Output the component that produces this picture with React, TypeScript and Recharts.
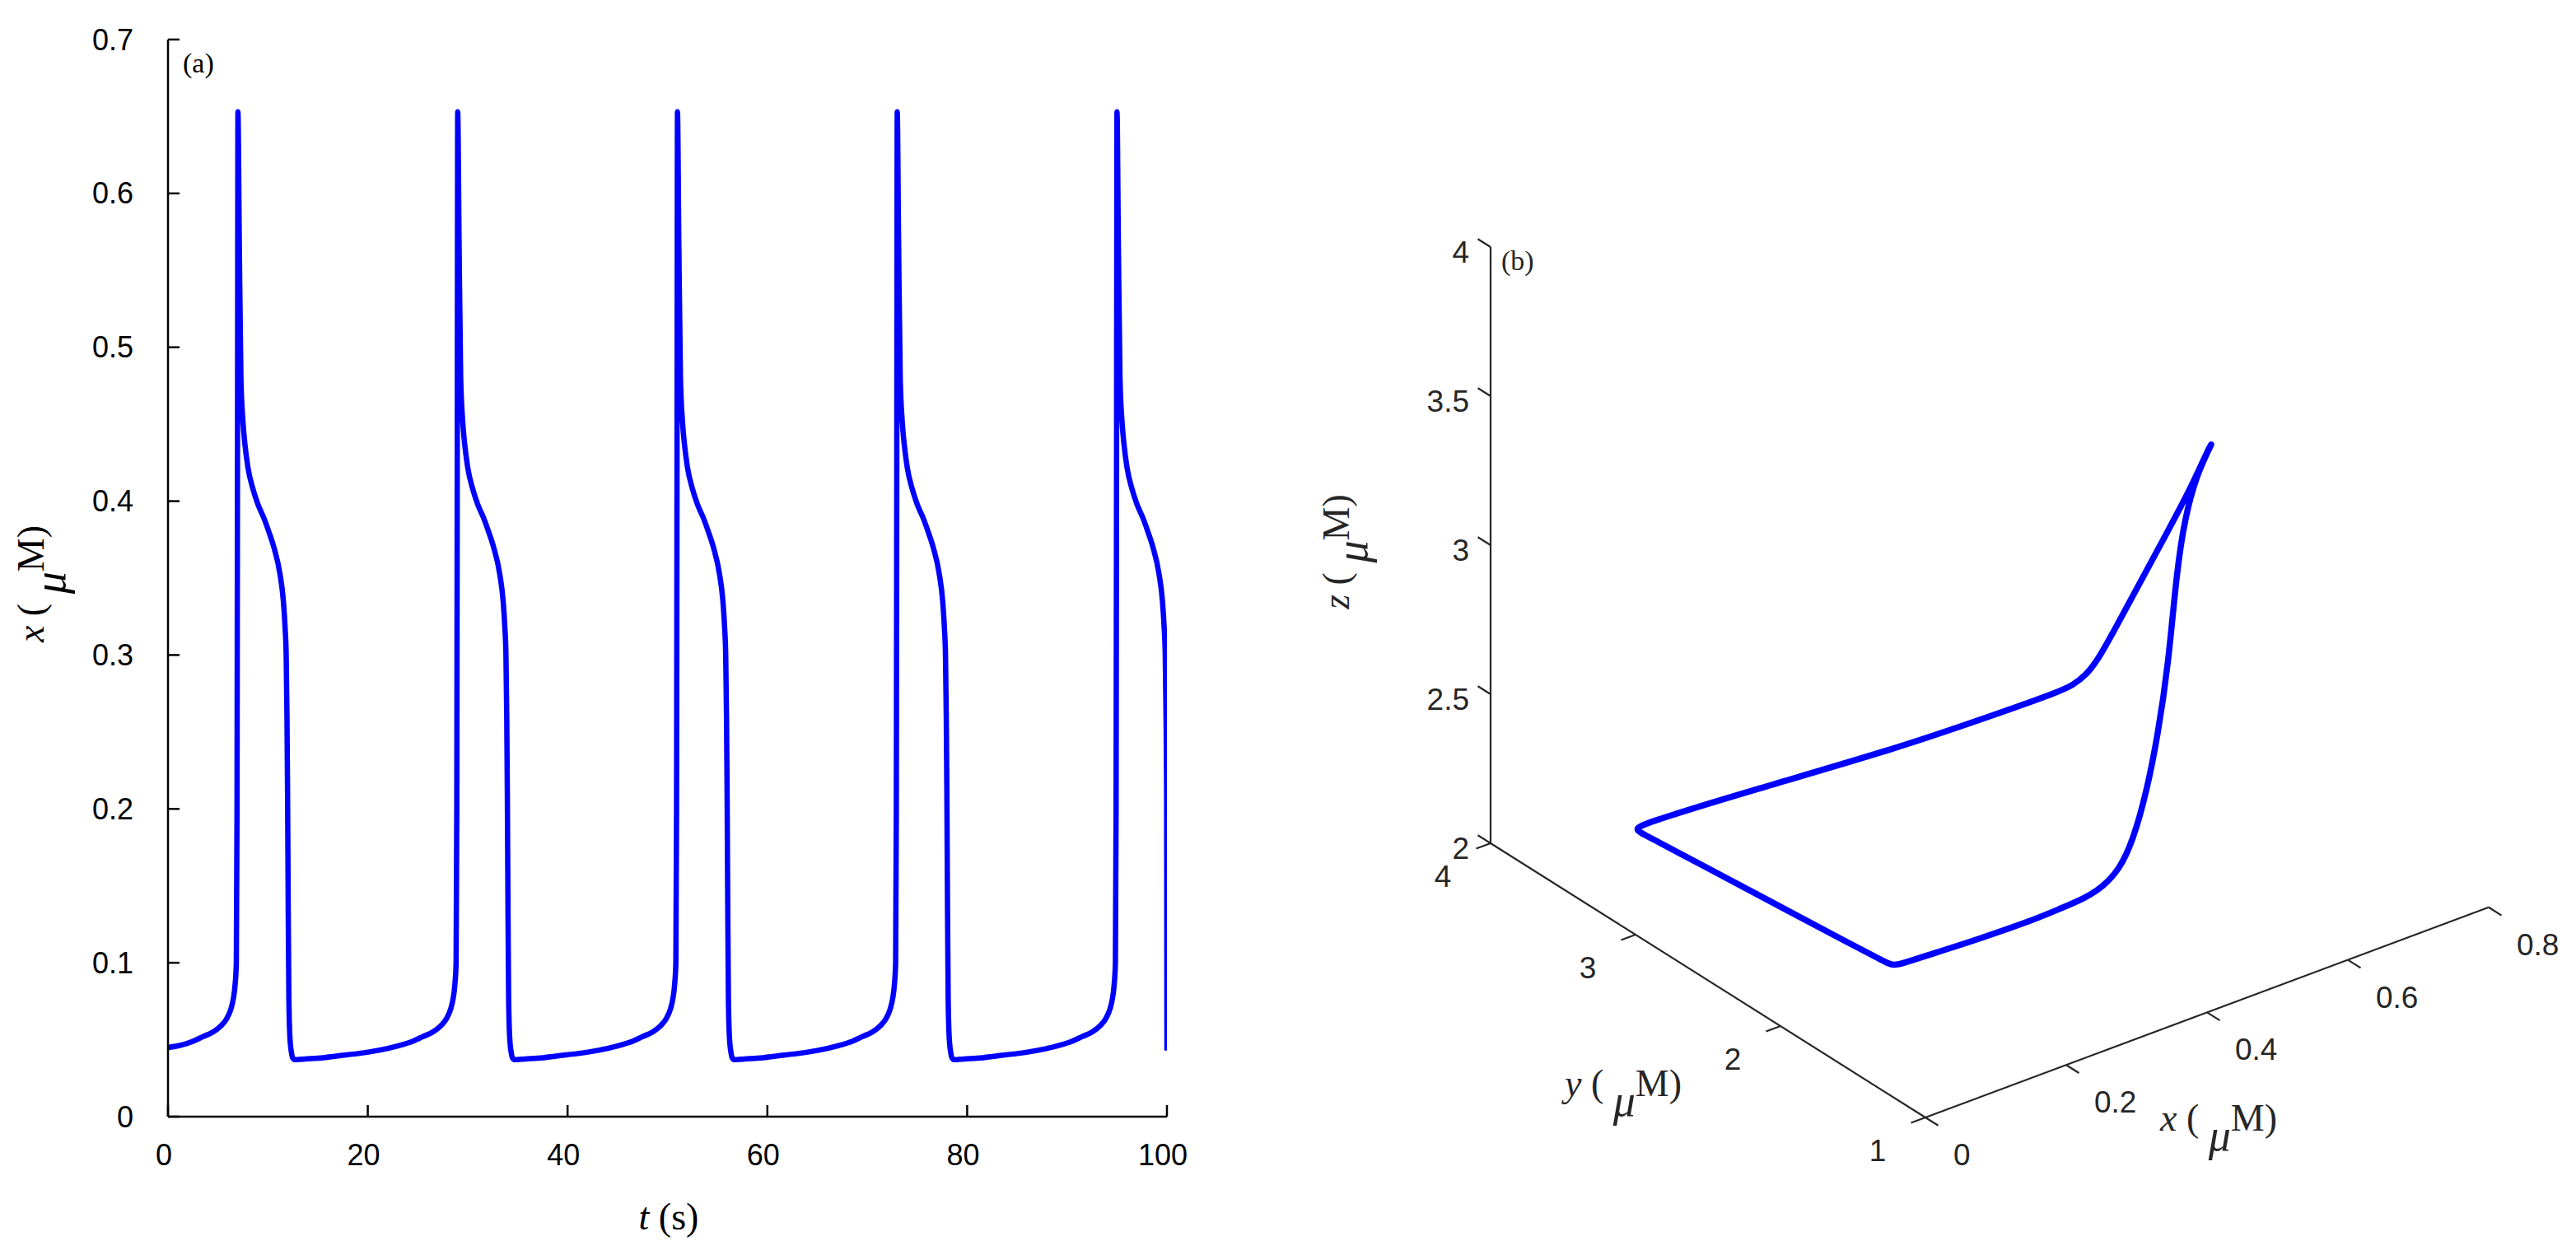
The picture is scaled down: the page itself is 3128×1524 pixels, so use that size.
import React from 'react';
import { LineChart, Line, XAxis, YAxis, ComposedChart, Scatter } from 'recharts';

const SANS = '"Liberation Sans", Arial, Helvetica, sans-serif';
const SERIF = '"Liberation Serif", "Times New Roman", Times, serif';
const BLUE = '#0000ff';
const AXIS_B = '#262626';

// ---------- Panel (a): x(t), one array per spike cycle, pairs [t (s), x (uM)] ----------
const cycle1: [number, number][] = [
  [0, 0.045], [1, 0.046], [2.5, 0.049], [3.5, 0.052], [4.5, 0.055], [5.3, 0.059], [5.9, 0.064], [6.3, 0.07],
  [6.55, 0.077], [6.72, 0.086], [6.84, 0.1], [6.91, 0.2], [6.96, 0.45], [7, 0.653], [7.14, 0.566], [7.3, 0.48],
  [7.5, 0.452], [7.7, 0.437], [8, 0.422], [8.5, 0.408], [9, 0.398], [9.6, 0.389], [10.1, 0.38], [10.6, 0.37],
  [11.2, 0.353], [11.55, 0.335], [11.72, 0.318], [11.83, 0.3], [11.91, 0.26], [11.97, 0.21], [12.03, 0.14],
  [12.1, 0.077], [12.2, 0.052], [12.35, 0.042], [12.5, 0.038], [12.7, 0.037],
];
const cycle2: [number, number][] = [
  [13.7, 0.0375], [15, 0.038], [17, 0.0395], [19, 0.041], [21, 0.043], [23, 0.046], [24.5, 0.049], [25.5, 0.052],
  [26.5, 0.055], [27.3, 0.059], [27.9, 0.064], [28.3, 0.07], [28.55, 0.077], [28.72, 0.086], [28.84, 0.1],
  [28.91, 0.2], [28.96, 0.45], [29, 0.653], [29.14, 0.566], [29.3, 0.48], [29.5, 0.452], [29.7, 0.437], [30, 0.422],
  [30.5, 0.408], [31, 0.398], [31.6, 0.389], [32.1, 0.38], [32.6, 0.37], [33.2, 0.353], [33.55, 0.335],
  [33.72, 0.318], [33.83, 0.3], [33.91, 0.26], [33.97, 0.21], [34.03, 0.14], [34.1, 0.077], [34.2, 0.052],
  [34.35, 0.042], [34.5, 0.038], [34.7, 0.037],
];
const cycle3: [number, number][] = [
  [35.7, 0.0375], [37, 0.038], [39, 0.0395], [41, 0.041], [43, 0.043], [45, 0.046], [46.5, 0.049], [47.5, 0.052],
  [48.5, 0.055], [49.3, 0.059], [49.9, 0.064], [50.3, 0.07], [50.55, 0.077], [50.72, 0.086], [50.84, 0.1],
  [50.91, 0.2], [50.96, 0.45], [51, 0.653], [51.14, 0.566], [51.3, 0.48], [51.5, 0.452], [51.7, 0.437], [52, 0.422],
  [52.5, 0.408], [53, 0.398], [53.6, 0.389], [54.1, 0.38], [54.6, 0.37], [55.2, 0.353], [55.55, 0.335],
  [55.72, 0.318], [55.83, 0.3], [55.91, 0.26], [55.97, 0.21], [56.03, 0.14], [56.1, 0.077], [56.2, 0.052],
  [56.35, 0.042], [56.5, 0.038], [56.7, 0.037],
];
const cycle4: [number, number][] = [
  [57.7, 0.0375], [59, 0.038], [61, 0.0395], [63, 0.041], [65, 0.043], [67, 0.046], [68.5, 0.049], [69.5, 0.052],
  [70.5, 0.055], [71.3, 0.059], [71.9, 0.064], [72.3, 0.07], [72.55, 0.077], [72.72, 0.086], [72.84, 0.1],
  [72.91, 0.2], [72.96, 0.45], [73, 0.653], [73.14, 0.566], [73.3, 0.48], [73.5, 0.452], [73.7, 0.437], [74, 0.422],
  [74.5, 0.408], [75, 0.398], [75.6, 0.389], [76.1, 0.38], [76.6, 0.37], [77.2, 0.353], [77.55, 0.335],
  [77.72, 0.318], [77.83, 0.3], [77.91, 0.26], [77.97, 0.21], [78.03, 0.14], [78.1, 0.077], [78.2, 0.052],
  [78.35, 0.042], [78.5, 0.038], [78.7, 0.037],
];
const cycle5: [number, number][] = [
  [79.7, 0.0375], [81, 0.038], [83, 0.0395], [85, 0.041], [87, 0.043], [89, 0.046], [90.5, 0.049], [91.5, 0.052],
  [92.5, 0.055], [93.3, 0.059], [93.9, 0.064], [94.3, 0.07], [94.55, 0.077], [94.72, 0.086], [94.84, 0.1],
  [94.91, 0.2], [94.96, 0.45], [95, 0.653], [95.14, 0.566], [95.3, 0.48], [95.5, 0.452], [95.7, 0.437], [96, 0.422],
  [96.5, 0.408], [97, 0.398], [97.6, 0.389], [98.1, 0.38], [98.6, 0.37], [99.2, 0.353], [99.55, 0.335],
  [99.72, 0.318], [99.83, 0.3], [99.91, 0.26], [99.97, 0.21], [100, 0.043],
];
const timeTicks = [0, 20, 40, 60, 80, 100];
const conc_ticks_a = [0, 0.1, 0.2, 0.3, 0.4, 0.5, 0.6, 0.7];

// ---------- Panel (b): closed limit cycle in (x, y, z) ----------
const loopX = [0.037, 0.037, 0.038, 0.041, 0.046, 0.053, 0.062, 0.075, 0.17, 0.29, 0.4, 0.46, 0.48, 0.5, 0.52, 0.55, 0.58, 0.61, 0.635, 0.648, 0.653, 0.63, 0.6, 0.55, 0.5, 0.45, 0.42, 0.4, 0.38, 0.36, 0.34, 0.32, 0.28, 0.24, 0.16, 0.1, 0.048];
const loopY = [1.407, 1.481, 1.685, 2.267, 2.803, 3.121, 3.307, 3.347, 2.991, 2.625, 2.403, 2.314, 2.315, 2.321, 2.339, 2.371, 2.329, 2.288, 2.255, 2.205, 2.189, 2.106, 2.045, 1.882, 1.696, 1.51, 1.438, 1.415, 1.414, 1.414, 1.43, 1.447, 1.44, 1.433, 1.425, 1.418, 1.392];
const loopZ = [2.351, 2.348, 2.334, 2.3, 2.263, 2.233, 2.202, 2.195, 2.342, 2.481, 2.579, 2.62, 2.624, 2.638, 2.664, 2.727, 2.883, 3.037, 3.166, 3.292, 3.328, 3.346, 3.303, 3.256, 3.175, 2.966, 2.775, 2.617, 2.466, 2.385, 2.342, 2.318, 2.317, 2.316, 2.325, 2.336, 2.354];
const bTicksX = [0, 0.2, 0.4, 0.6, 0.8];
const bTicksY = [1, 2, 3, 4];
const bTicksZ = [2, 2.5, 3, 3.5, 4];
const bRange = { x: [0, 0.8], y: [1, 4], z: [2, 4] };

// view (projection of the 3-D box onto the page)
const VIEW = { ox: 2338, oy: 1357, ex: [855, -319], ey: [-176, -111], ez: [0, -362] };
const project = (x: number, y: number, z: number) => ({
  u: VIEW.ox + VIEW.ex[0] * (x - bRange.x[0]) + VIEW.ey[0] * (y - bRange.y[0]) + VIEW.ez[0] * (z - bRange.z[0]),
  v: VIEW.oy + VIEW.ex[1] * (x - bRange.x[0]) + VIEW.ey[1] * (y - bRange.y[0]) + VIEW.ez[1] * (z - bRange.z[0]),
});

const traceA = [...cycle1, ...cycle2, ...cycle3, ...cycle4, ...cycle5].map(([t, x]) => ({ t, x }));
const loopB = loopX.map((x, i) => project(x, loopY[i], loopZ[i]));

const TICK_LEN_Y = 0.088; // in y units
const TICK_LEN_X = 0.0205; // in x units
const axisSegs = [
  [project(0, 1, 2), project(0.8, 1, 2)],
  [project(0, 1, 2), project(0, 4, 2)],
  [project(0, 4, 2), project(0, 4, 4)],
  ...bTicksX.map((x) => [project(x, 1, 2), project(x, 1 - TICK_LEN_Y, 2)]),
  ...bTicksY.map((y) => [project(0, y, 2), project(-TICK_LEN_X, y, 2)]),
  ...bTicksZ.map((z) => [project(0, 4, z), project(0, 4 + TICK_LEN_Y, z)]),
];
const bLabels = [
  ...bTicksX.map((x) => ({ ...project(x, 1, 2), text: String(x), kind: 'x' })),
  ...bTicksY.map((y) => ({ ...project(0, y, 2), text: String(y), kind: 'y' })),
  ...bTicksZ.map((z) => ({ ...project(0, 4, z), text: String(z), kind: 'z' })),
];

const YTickA = (props: any) => {
  const { x, y, payload } = props;
  return (
    <g>
      <line x1={x} y1={y} x2={x + 14} y2={y} stroke="#000" strokeWidth={2.5} />
      <text x={x - 42} y={y} dy="0.35em" textAnchor="end" fontSize={36} fontFamily={SANS} fill="#000">
        {String(payload.value)}
      </text>
    </g>
  );
};
const XTickA = (props: any) => {
  const { x, y, payload } = props;
  return (
    <g>
      <line x1={x} y1={y} x2={x} y2={y - 14} stroke="#000" strokeWidth={2.5} />
      <text x={x - 5} y={y + 46} dy="0.35em" textAnchor="middle" fontSize={36} fontFamily={SANS} fill="#000">
        {String(payload.value)}
      </text>
    </g>
  );
};

const LabelShape = (props: any) => {
  const { cx, cy, payload } = props;
  let x = cx, y = cy, anchor: 'start' | 'middle' | 'end' = 'middle';
  if (payload.kind === 'x') { x = cx + 34; y = cy + 45; anchor = 'start'; }
  if (payload.kind === 'y') { x = cx - 58; y = cy + 40; anchor = 'middle'; }
  if (payload.kind === 'z') { x = cx - 26; y = cy + 6; anchor = 'end'; }
  return (
    <text x={x} y={y} dy="0.35em" textAnchor={anchor} fontSize={37} fontFamily={SANS} fill={AXIS_B}>
      {payload.text}
    </text>
  );
};

const Mu = ({ size, shift }: { size: number; shift: number }) => (
  <>
    <tspan fontSize={size} fontStyle="italic" dy={shift}>μ</tspan>
    <tspan dy={-shift}>M)</tspan>
  </>
);

export default function App() {
  return (
    <div style={{ position: 'absolute', left: 0, top: 0, width: 3128, height: 1524, background: '#fff' }}>
      <div style={{ position: 'absolute', left: 0, top: 0 }}>
        <LineChart width={1500} height={1524} data={traceA} margin={{ top: 48, right: 83, bottom: 138, left: 144 }}>
          <XAxis
            type="number" dataKey="t" domain={[0, 100]} ticks={timeTicks} interval={0} height={30}
            tickSize={0} tickMargin={0} tickLine={false} tick={<XTickA />}
            axisLine={{ stroke: '#000', strokeWidth: 2.5 }} allowDataOverflow
          />
          <YAxis
            type="number" domain={[0, 0.7]} ticks={conc_ticks_a} interval={0} width={60}
            tickSize={0} tickMargin={0} tickLine={false} tick={<YTickA />}
            axisLine={{ stroke: '#000', strokeWidth: 2.5 }} allowDataOverflow
          />
          <Line type="monotone" dataKey="x" stroke={BLUE} strokeWidth={6.5} dot={false} activeDot={false}
            isAnimationActive={false} strokeLinejoin="round" />
        </LineChart>
      </div>
      <div style={{ position: 'absolute', left: 1550, top: 0 }}>
        <ComposedChart width={1578} height={1524} margin={{ top: 0, right: 0, bottom: 0, left: 0 }}>
          <XAxis type="number" dataKey="u" domain={[1550, 3128]} hide height={0} allowDataOverflow />
          <YAxis type="number" dataKey="v" domain={[0, 1524]} reversed hide width={0} allowDataOverflow />
          {axisSegs.map((seg, i) => (
            <Line key={'ax' + i} data={seg} dataKey="v" type="linear" stroke={AXIS_B} strokeWidth={2.2}
              dot={false} activeDot={false} isAnimationActive={false} />
          ))}
          <Line data={loopB} dataKey="v" type="basisClosed" stroke={BLUE} strokeWidth={7.5} dot={false}
            activeDot={false} isAnimationActive={false} strokeLinejoin="round" strokeLinecap="round" />
          <Scatter data={bLabels} dataKey="v" shape={<LabelShape />} isAnimationActive={false} />
        </ComposedChart>
      </div>
      <svg width={3128} height={1524} style={{ position: 'absolute', left: 0, top: 0, pointerEvents: 'none' }}>
        <text x={222} y={88} fontSize={34} fontFamily={SERIF} fill="#000">(a)</text>
        <text x={812} y={1493} textAnchor="middle" fontSize={46} fontFamily={SERIF} fill="#000">
          <tspan fontStyle="italic">t</tspan> (s)
        </text>
        <text transform="translate(53,709) rotate(-90)" textAnchor="middle" fontSize={46} fontFamily={SERIF} fill="#000">
          <tspan fontStyle="italic">x</tspan> ( <Mu size={54} shift={26} />
        </text>
        <text x={1823} y={328} fontSize={34} fontFamily={SERIF} fill={AXIS_B}>(b)</text>
        <text x={2623} y={1373} fontSize={46} fontFamily={SERIF} fill={AXIS_B}>
          <tspan fontStyle="italic">x</tspan> ( <Mu size={54} shift={24} />
        </text>
        <text x={1900} y={1331} fontSize={46} fontFamily={SERIF} fill={AXIS_B}>
          <tspan fontStyle="italic">y</tspan> ( <Mu size={54} shift={24} />
        </text>
        <text transform="translate(1638,670) rotate(-90)" textAnchor="middle" fontSize={46} fontFamily={SERIF} fill={AXIS_B}>
          <tspan fontStyle="italic">z</tspan> ( <Mu size={54} shift={22} />
        </text>
      </svg>
    </div>
  );
}
